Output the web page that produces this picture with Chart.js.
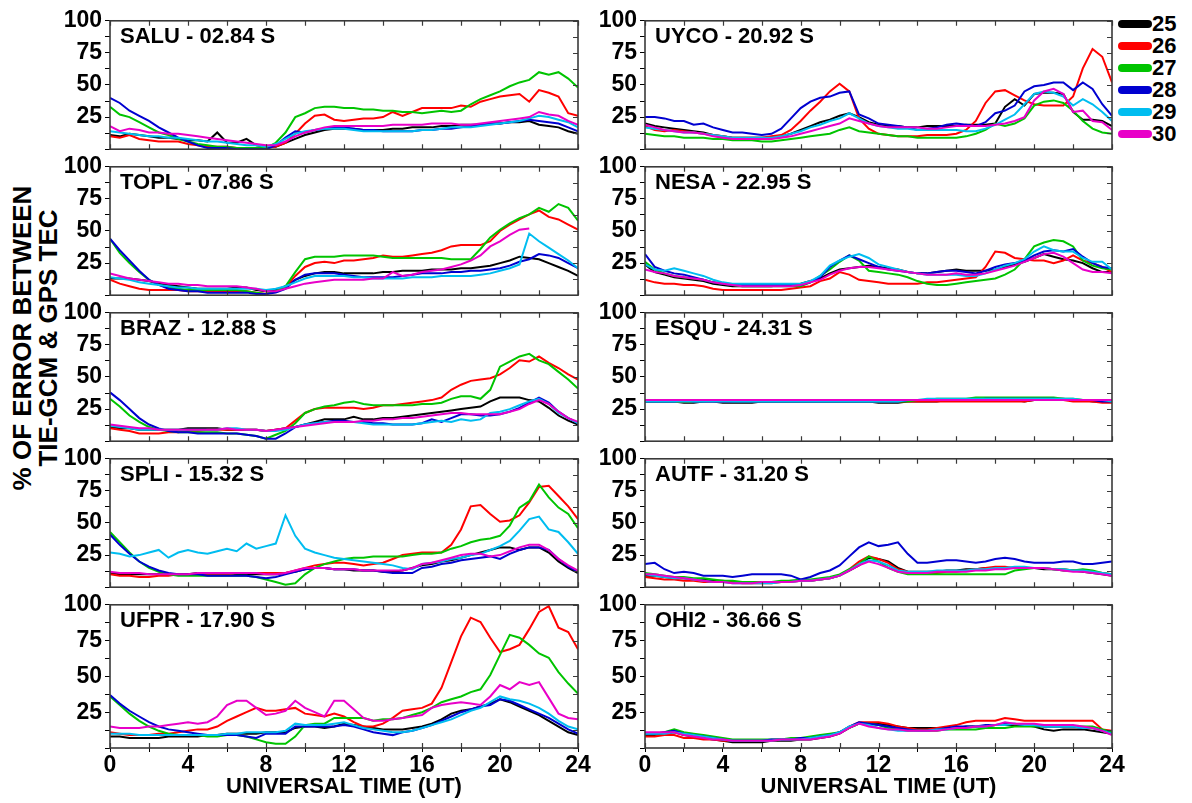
<!DOCTYPE html>
<html>
<head>
<meta charset="utf-8">
<title>TIE-GCM vs GPS TEC error</title>
<script src="https://cdn.jsdelivr.net/npm/chart.js@4.4.0/dist/chart.umd.min.js"></script>
<style>
  body { margin: 0; background: #fff; width: 1192px; height: 803px; position: relative; overflow: hidden;
         font-family: "Liberation Sans", Arial, sans-serif; font-weight: bold; color: #000; }
  .panel { position: absolute; }
  #ytitle { position: absolute; left: -175px; top: 312px; width: 420px; height: 52px; line-height: 26px;
            font-size: 26px; text-align: center; transform: rotate(-90deg); white-space: nowrap; }
  #legend { position: absolute; left: 1118px; top: 12px; }
  .entry { position: relative; height: 22px; }
  .entry span.bar { position: absolute; left: 0; top: 8px; width: 34px; height: 8px; border-radius: 4px; }
  .entry span.lbl { position: absolute; left: 34px; top: 0; font-size: 22px; line-height: 24px; }
</style>
</head>
<body>
<div id="ytitle">% OF ERROR BETWEEN<br>TIE-GCM &amp; GPS TEC</div>
<div id="legend"></div>

<script>
// Universal time (hours), one sample every half hour
const hours = [0,0.5,1,1.5,2,2.5,3,3.5,4,4.5,5,5.5,6,6.5,7,7.5,8,8.5,9,9.5,10,10.5,11,11.5,
               12,12.5,13,13.5,14,14.5,15,15.5,16,16.5,17,17.5,18,18.5,19,19.5,20,20.5,21,21.5,
               22,22.5,23,23.5,24];

const days = ['25', '26', '27', '28', '29', '30'];
const dayColors = ['#000000', '#ff0000', '#00c400', '#0000d0', '#00bdf0', '#e800c8'];

const stations = ['SALU - 02.84 S', 'TOPL - 07.86 S', 'BRAZ - 12.88 S', 'SPLI - 15.32 S', 'UFPR - 17.90 S',
                  'UYCO - 20.92 S', 'NESA - 22.95 S', 'ESQU - 24.31 S', 'AUTF - 31.20 S', 'OHI2 - 36.66 S'];

const xTicks = [0, 4, 8, 12, 16, 20, 24];
const yTicks = [25, 50, 75, 100];

// % error per station and day
const SALU_25 = [11,10,12,11,10,9,9,8,7,7,6,13,5,5,8,3,2,2,5,8,11,13,15,16,16,16,15,15,15,16,16,17,17,17,18,18,19,19,19,20,20,21,21,22,19,18,17,14,12];
const SALU_26 = [10,9,11,8,7,6,6,6,4,3,2,2,2,1,1,1,1,2,5,12,20,26,27,23,22,23,24,24,25,29,26,29,32,32,32,32,34,33,37,39,41,42,43,37,46,44,41,28,26];
const SALU_27 = [33,27,25,21,17,13,11,8,6,4,3,2,2,1,1,1,1,5,13,25,28,32,33,33,32,32,31,31,30,30,29,29,28,29,30,29,30,35,39,42,45,49,52,54,60,58,60,55,48];
const SALU_28 = [40,36,30,26,22,17,13,9,6,3,1,1,1,0,0,0,0,3,9,14,13,15,16,17,17,16,15,15,14,14,14,14,15,15,16,16,17,18,19,20,20,21,22,23,22,21,20,17,14];
const SALU_29 = [14,13,12,11,10,10,9,9,8,7,6,6,5,4,3,3,2,4,8,12,14,15,16,16,16,15,14,14,14,14,14,14,15,15,16,17,17,17,18,19,20,21,22,24,26,25,23,21,17];
const SALU_30 = [18,14,16,15,13,13,12,12,11,10,9,8,7,6,5,4,3,3,6,10,13,15,17,18,18,18,18,18,18,19,19,19,19,20,20,20,19,19,20,21,22,23,24,25,29,27,26,22,19];

const TOPL_25 = [13,13,13,12,11,9,8,7,6,5,5,5,5,6,6,4,3,4,7,12,15,17,18,18,17,17,17,17,18,18,19,19,19,20,20,20,21,21,22,23,25,27,30,29,28,25,22,19,15];
const TOPL_26 = [12,9,7,5,4,4,4,4,3,3,3,3,3,3,3,2,1,3,6,15,22,25,26,25,27,27,28,29,31,30,30,31,32,33,35,38,39,39,39,42,50,55,59,63,66,61,59,55,51];
const TOPL_27 = [44,33,25,18,12,8,6,5,4,4,4,4,4,4,3,2,1,3,7,18,28,30,30,30,31,31,31,31,30,29,29,29,29,29,29,28,28,28,36,45,51,56,60,63,68,65,71,68,58];
const TOPL_28 = [44,35,27,19,12,8,5,4,3,3,2,2,2,2,2,1,1,2,5,12,16,17,17,17,16,15,14,14,14,14,15,16,17,17,17,18,18,19,19,20,21,23,26,28,32,31,29,25,21];
const TOPL_29 = [14,13,12,10,9,8,7,6,6,5,5,5,5,5,5,5,4,5,7,10,13,15,15,15,15,14,14,13,13,13,13,14,14,14,15,15,15,15,16,17,19,21,24,48,42,37,32,27,21];
const TOPL_30 = [17,15,13,12,11,10,9,9,8,8,7,7,7,7,6,5,3,3,5,7,9,10,11,12,12,12,12,13,13,18,15,16,18,19,20,22,24,27,31,38,42,47,51,52,null,null,null,null,null];

const BRAZ_25 = [11,10,10,9,9,9,9,9,10,10,10,10,9,9,9,9,8,9,10,11,13,15,17,17,17,19,17,17,18,18,19,20,21,22,23,24,25,26,27,31,34,34,34,32,31,26,20,16,13];
const BRAZ_26 = [10,9,8,6,6,6,7,7,8,8,9,9,9,9,9,9,8,9,10,16,22,25,26,26,26,26,25,26,28,28,29,30,31,32,34,40,44,47,48,49,52,57,63,62,66,61,57,52,48];
const BRAZ_27 = [33,27,20,15,11,9,8,7,7,7,7,7,6,6,5,4,2,5,8,14,22,25,27,28,30,31,29,28,28,28,28,28,29,29,30,33,35,35,33,40,58,62,66,68,63,60,54,48,41];
const BRAZ_28 = [38,32,25,18,13,10,8,7,7,6,6,6,6,6,5,4,2,2,6,11,13,14,15,16,16,15,15,14,14,13,13,13,14,17,15,18,21,21,20,20,21,23,26,30,34,30,23,18,14];
const BRAZ_29 = [12,11,10,9,9,9,9,9,9,9,9,9,10,10,9,9,8,8,9,11,13,14,15,15,15,15,14,13,13,13,13,13,14,15,16,15,17,16,17,22,23,25,28,31,33,29,22,18,14];
const BRAZ_30 = [13,12,11,10,10,9,9,9,9,9,9,9,10,9,9,9,8,9,10,11,12,13,14,15,15,15,16,16,17,17,18,18,19,20,21,22,22,21,21,21,21,23,25,29,32,29,23,18,15];

const SPLI_25 = [11,10,10,10,10,10,10,10,10,11,11,11,11,10,10,10,10,10,11,12,14,15,15,14,14,13,13,13,12,12,13,15,17,18,20,21,23,25,27,29,31,31,29,31,31,27,20,15,11];
const SPLI_26 = [10,9,9,8,8,9,9,10,10,10,10,10,10,11,11,11,11,11,11,13,15,17,18,19,19,18,17,18,19,22,25,26,27,27,27,33,45,63,64,57,51,52,56,66,78,79,71,63,53];
const SPLI_27 = [43,35,27,20,15,12,10,9,9,9,9,9,9,9,9,8,6,4,2,3,10,15,18,20,22,23,23,24,24,24,24,25,26,26,27,30,32,35,37,38,40,48,62,67,80,70,62,57,46];
const SPLI_28 = [41,33,26,20,16,13,11,10,10,10,9,9,9,9,9,8,7,8,10,12,14,15,15,14,14,14,13,13,12,11,11,11,15,16,18,19,21,22,23,24,22,26,29,31,31,29,22,16,12];
const SPLI_29 = [27,26,24,25,27,29,23,27,29,27,26,28,30,28,34,30,32,34,56,40,30,27,25,23,22,21,20,19,18,17,15,14,18,19,20,22,23,25,26,29,32,36,44,53,55,45,43,35,26];
const SPLI_30 = [12,11,11,11,10,10,10,10,10,11,11,11,11,11,11,11,10,10,11,13,15,15,15,14,14,14,13,13,13,13,13,15,18,19,21,23,25,26,26,24,25,28,31,33,33,29,22,17,13];

const UFPR_25 = [8,8,7,7,7,7,8,8,8,8,9,9,10,10,10,10,11,11,11,14,15,15,14,15,17,16,15,14,13,13,13,14,15,17,20,24,26,27,29,31,34,32,29,26,23,19,15,11,9];
const UFPR_26 = [11,10,9,9,9,10,10,11,12,13,13,15,19,22,25,28,26,26,27,28,24,23,22,24,22,18,15,15,17,21,26,27,28,31,42,60,78,91,88,77,67,69,72,83,95,99,84,81,69];
const UFPR_27 = [36,30,24,19,15,12,10,9,9,9,8,8,9,9,8,6,4,3,3,8,16,17,17,21,21,21,21,19,20,20,21,23,25,28,32,34,36,39,41,51,65,79,77,72,66,63,53,45,38];
const UFPR_28 = [37,31,26,22,18,15,13,12,11,10,9,9,9,9,8,7,10,10,10,15,15,15,15,15,16,15,13,11,10,9,11,12,14,16,19,22,25,27,29,30,34,33,30,27,24,21,17,13,10];
const UFPR_29 = [10,10,10,9,9,9,9,9,9,9,9,9,10,10,11,11,11,11,12,17,16,16,16,17,18,16,14,13,12,11,11,12,14,16,18,20,23,26,28,32,36,34,33,31,28,24,19,15,13];
const UFPR_30 = [15,14,14,14,15,15,16,17,18,17,18,22,30,33,33,28,23,24,26,33,28,25,22,33,33,27,21,19,19,20,21,22,23,28,30,31,32,31,30,36,44,41,46,44,46,35,24,21,20];

const UYCO_25 = [20,18,17,16,15,14,13,11,10,9,9,9,9,9,10,12,15,18,21,23,26,28,25,21,19,18,18,17,17,18,18,18,18,19,19,19,20,33,39,34,43,44,44,43,29,23,23,22,18];
const UYCO_26 = [18,15,14,15,14,13,12,11,10,9,9,9,9,10,11,15,22,30,37,45,51,45,24,16,12,11,10,10,10,11,11,11,12,15,22,36,45,46,42,38,35,34,34,34,41,63,78,72,52];
const UYCO_27 = [12,11,10,10,9,9,9,8,8,7,7,7,6,6,7,8,9,10,11,12,15,17,14,13,12,11,10,10,9,9,9,9,9,10,12,15,20,18,20,24,34,37,38,36,30,22,16,13,12];
const UYCO_28 = [25,25,24,22,22,19,20,17,15,13,13,12,11,12,16,24,32,37,40,41,44,45,27,24,20,19,18,17,15,16,17,19,20,19,18,21,28,30,34,45,49,50,52,52,46,52,47,35,26];
const UYCO_29 = [17,16,15,14,13,13,12,11,10,9,9,9,9,9,10,12,14,17,19,22,24,28,24,20,18,17,16,16,15,15,15,15,15,14,14,16,19,23,27,35,43,45,44,41,34,39,35,29,22];
const UYCO_30 = [19,17,15,14,13,13,12,10,9,8,8,8,8,8,9,10,12,14,16,18,20,24,22,20,18,17,17,17,17,16,16,17,18,18,18,18,19,20,22,25,38,45,47,43,29,30,22,21,15];

const NESA_25 = [24,18,16,14,13,12,11,9,8,7,7,7,7,7,8,8,9,11,13,17,20,21,22,23,22,21,20,18,17,17,18,19,20,19,19,19,20,22,24,26,29,32,30,28,27,25,21,18,18];
const NESA_26 = [12,10,9,9,8,8,7,5,4,4,4,4,4,4,4,5,6,7,11,13,18,16,12,11,10,9,9,9,9,10,10,11,12,13,14,22,34,33,29,28,27,27,25,27,31,27,25,22,18];
const NESA_27 = [26,20,17,15,14,13,12,10,9,8,7,7,7,7,7,7,7,10,15,20,26,31,27,19,18,17,16,14,11,9,8,8,9,10,11,12,13,16,20,28,38,41,43,42,38,27,23,21,20];
const NESA_28 = [32,22,19,17,16,14,12,10,9,8,8,8,8,8,8,8,8,10,14,22,27,31,28,25,22,20,19,18,17,17,18,19,19,18,17,19,22,24,25,27,31,34,35,34,36,30,25,22,21];
const NESA_29 = [24,20,19,21,19,17,15,12,10,9,9,9,9,9,9,9,9,11,15,23,27,30,32,29,24,22,20,18,17,16,16,16,16,15,15,17,20,23,25,28,34,38,35,34,34,29,26,26,20];
const NESA_30 = [20,18,17,15,14,13,12,10,9,8,7,7,7,7,7,7,8,10,12,16,19,21,22,22,21,20,19,18,17,16,16,16,17,16,16,17,19,21,23,26,29,32,33,30,25,20,18,18,17];

const ESQU_25 = [31,31,31,31,30,30,31,31,30,30,30,30,31,31,31,31,31,31,31,31,31,31,31,31,30,30,30,31,31,31,31,32,32,32,32,32,32,32,32,31,32,32,33,33,32,32,31,31,31];
const ESQU_26 = [31,31,31,31,31,31,31,31,31,31,31,31,31,31,31,31,31,31,31,31,31,31,31,31,31,31,31,31,31,31,31,31,31,31,31,31,31,31,31,31,32,32,32,32,31,31,31,30,30];
const ESQU_27 = [31,31,31,31,31,31,31,32,32,31,31,31,31,31,31,31,31,31,31,31,31,31,31,31,31,31,31,31,32,32,33,33,33,33,34,34,34,34,34,34,34,34,34,33,33,32,32,32,31];
const ESQU_28 = [31,31,31,31,32,31,31,31,31,31,31,31,31,31,31,31,31,31,31,31,31,31,31,31,31,31,31,32,32,32,32,32,32,32,32,33,33,33,33,33,33,33,33,32,32,32,32,31,31];
const ESQU_29 = [31,31,31,31,31,31,31,31,31,31,31,31,31,31,31,31,31,31,31,31,31,31,31,31,31,31,31,32,32,33,33,33,33,33,33,33,33,33,33,33,33,33,33,33,33,32,32,32,31];
const ESQU_30 = [32,32,32,32,32,32,32,32,32,32,32,32,32,32,32,32,32,32,32,32,32,32,32,32,32,32,32,32,32,32,32,32,32,32,32,32,32,32,32,32,32,32,32,32,32,32,32,32,32];

const AUTF_25 = [9,9,8,7,7,6,6,5,5,4,4,4,4,4,4,5,5,5,6,7,9,13,17,23,22,20,15,12,12,12,12,13,13,14,14,15,15,15,15,15,15,14,14,13,13,12,11,10,9];
const AUTF_26 = [8,7,6,6,5,5,4,4,4,4,3,3,3,3,4,4,5,5,6,7,9,14,20,24,22,19,14,12,11,11,11,12,12,13,14,15,16,16,15,15,15,15,14,14,13,13,12,11,10];
const AUTF_27 = [11,10,9,8,8,7,7,6,5,5,4,4,4,4,5,5,6,6,7,8,10,14,18,24,20,15,12,10,10,10,10,10,10,10,10,10,10,10,13,14,15,15,14,14,13,14,13,11,10];
const AUTF_28 = [18,19,14,11,12,11,9,9,9,8,9,10,10,10,10,9,6,8,11,13,17,24,31,35,32,33,35,26,19,19,20,21,21,20,19,20,22,23,22,20,19,19,19,20,20,18,18,19,20];
const AUTF_29 = [10,9,8,7,7,6,5,4,4,3,3,3,3,3,4,4,5,5,6,7,9,13,18,21,20,17,13,12,12,12,13,13,13,13,14,14,15,15,16,16,15,15,14,14,13,13,12,11,10];
const AUTF_30 = [10,10,9,8,7,6,5,4,4,3,3,3,4,4,4,4,5,5,6,7,9,13,17,20,18,15,12,11,11,11,12,12,12,12,13,13,14,14,15,15,15,15,14,13,12,12,11,10,9];

const OHI2_25 = [9,9,10,11,9,8,7,6,5,4,4,4,4,5,5,5,6,6,7,8,10,14,17,17,17,16,15,14,14,14,14,14,14,15,15,15,16,16,16,16,15,13,12,13,13,13,12,11,10];
const OHI2_26 = [8,8,9,9,7,7,6,6,5,5,5,5,5,5,6,6,6,7,8,9,11,15,18,18,18,17,15,14,13,13,14,15,16,18,19,19,19,21,20,19,19,19,19,19,19,19,19,13,12];
const OHI2_27 = [10,10,11,13,11,10,9,8,7,6,6,6,6,6,6,7,7,8,9,10,11,14,17,17,16,14,13,12,12,12,12,13,13,13,13,14,14,14,15,15,15,15,15,15,15,15,15,13,11];
const OHI2_28 = [10,10,11,12,10,9,8,7,6,5,5,5,5,6,6,6,7,7,8,9,11,15,18,17,16,15,14,13,12,12,13,14,15,15,15,16,16,17,17,16,16,15,15,15,15,14,14,12,10];
const OHI2_29 = [10,10,10,11,10,9,8,7,6,5,5,5,5,5,6,6,6,7,8,9,11,15,17,16,14,13,12,12,12,12,13,13,14,14,15,15,16,16,17,16,16,15,15,15,15,14,14,12,10];
const OHI2_30 = [11,11,11,11,9,8,7,6,6,5,5,5,5,5,6,6,6,6,7,8,10,14,17,15,14,13,13,12,12,12,12,13,14,14,15,15,16,18,17,17,17,16,16,16,16,15,14,12,9];

const panelSeries = [
  [SALU_25, SALU_26, SALU_27, SALU_28, SALU_29, SALU_30],
  [TOPL_25, TOPL_26, TOPL_27, TOPL_28, TOPL_29, TOPL_30],
  [BRAZ_25, BRAZ_26, BRAZ_27, BRAZ_28, BRAZ_29, BRAZ_30],
  [SPLI_25, SPLI_26, SPLI_27, SPLI_28, SPLI_29, SPLI_30],
  [UFPR_25, UFPR_26, UFPR_27, UFPR_28, UFPR_29, UFPR_30],
  [UYCO_25, UYCO_26, UYCO_27, UYCO_28, UYCO_29, UYCO_30],
  [NESA_25, NESA_26, NESA_27, NESA_28, NESA_29, NESA_30],
  [ESQU_25, ESQU_26, ESQU_27, ESQU_28, ESQU_29, ESQU_30],
  [AUTF_25, AUTF_26, AUTF_27, AUTF_28, AUTF_29, AUTF_30],
  [OHI2_25, OHI2_26, OHI2_27, OHI2_28, OHI2_29, OHI2_30]
];

Chart.defaults.font.family = '"Liberation Sans", Arial, sans-serif';
Chart.defaults.font.weight = 'bold';
Chart.defaults.color = '#000';

const tickFont = { size: 23, weight: 'bold' };

// box around each panel, inward ticks on top/bottom/right, station name
const framePlugin = {
  id: 'frame',
  afterDraw(chart) {
    const { ctx, chartArea: a, scales: { x, y } } = chart;
    ctx.save();
    ctx.strokeStyle = '#3a3a3a';
    ctx.lineWidth = 1.6;
    ctx.strokeRect(a.left, a.top, a.right - a.left, a.bottom - a.top);
    ctx.lineWidth = 1.2;
    ctx.beginPath();
    x.ticks.forEach(t => {
      const px = Math.round(x.getPixelForValue(t.value)) + 0.5;
      ctx.moveTo(px, a.top); ctx.lineTo(px, a.top + 5);
      ctx.moveTo(px, a.bottom); ctx.lineTo(px, a.bottom - 5);
    });
    y.ticks.forEach(t => {
      const py = Math.round(y.getPixelForValue(t.value)) + 0.5;
      ctx.moveTo(a.right, py); ctx.lineTo(a.right - 5, py);
    });
    ctx.stroke();
    ctx.fillStyle = '#000';
    ctx.font = 'bold 22px "Liberation Sans", Arial, sans-serif';
    ctx.textBaseline = 'middle';
    ctx.fillText(chart.options.plugins.frame.label, a.left + 10, a.top + 16);
    ctx.restore();
  }
};

function makePanel(idx) {
  const col = idx < 5 ? 0 : 1;
  const row = idx % 5;
  const plotLeft = col === 0 ? 110 : 645;
  const plotW = col === 0 ? 468 : 467;
  const plotH = 146;
  const plotTop = 18 + row * plotH;
  const bottomRow = row === 4;
  const padL = 62, padT = 14, padR = 18, padB = bottomRow ? 54 : 2;

  const box = document.createElement('div');
  box.className = 'panel';
  box.style.left = (plotLeft - padL) + 'px';
  box.style.top = (plotTop - padT) + 'px';
  const canvas = document.createElement('canvas');
  canvas.width = plotW + padL + padR;
  canvas.height = plotH + padT + padB;
  box.appendChild(canvas);
  document.body.appendChild(box);

  const datasets = panelSeries[idx].map((vals, k) => ({
    label: days[k],
    data: hours.map((h, i) => ({ x: h, y: vals[i] })),
    borderColor: dayColors[k],
    borderWidth: 2,
    pointRadius: 0,
    tension: 0,
    fill: false,
    spanGaps: false,
    order: 5 - k
  }));

  new Chart(canvas, {
    type: 'line',
    data: { datasets },
    plugins: [framePlugin],
    options: {
      responsive: false,
      animation: false,
      devicePixelRatio: 1,
      layout: { padding: { top: padT, right: padR, bottom: 0, left: 0 } },
      plugins: {
        legend: { display: false },
        tooltip: { enabled: false },
        frame: { label: stations[idx] }
      },
      scales: {
        x: {
          type: 'linear', min: 0, max: 24,
          ticks: {
            stepSize: 2, display: bottomRow, autoSkip: false, maxRotation: 0, padding: 0,
            font: tickFont,
            callback: v => xTicks.includes(v) ? String(v) : ''
          },
          grid: { drawOnChartArea: false, drawTicks: bottomRow, tickLength: 4, color: '#000' },
          border: { display: false },
          title: { display: bottomRow, text: 'UNIVERSAL TIME (UT)', font: { size: 22, weight: 'bold' }, padding: { top: 0, bottom: 2 } },
          afterFit: s => { s.height = padB; }
        },
        y: {
          min: 0, max: 100,
          ticks: {
            stepSize: 12.5, autoSkip: false, padding: 3, font: tickFont,
            callback: v => yTicks.includes(v) ? String(v) : ''
          },
          grid: { drawOnChartArea: false, tickLength: 5, color: '#000' },
          border: { display: false },
          afterFit: s => { s.width = padL; }
        }
      }
    }
  });
}

for (let i = 0; i < stations.length; i++) makePanel(i);

// legend of days, top right
const legend = document.getElementById('legend');
days.forEach((d, k) => {
  const row = document.createElement('div');
  row.className = 'entry';
  row.innerHTML = '<span class="bar" style="background:' + dayColors[k] + '"></span><span class="lbl">' + d + '</span>';
  legend.appendChild(row);
});
</script>
</body>
</html>
